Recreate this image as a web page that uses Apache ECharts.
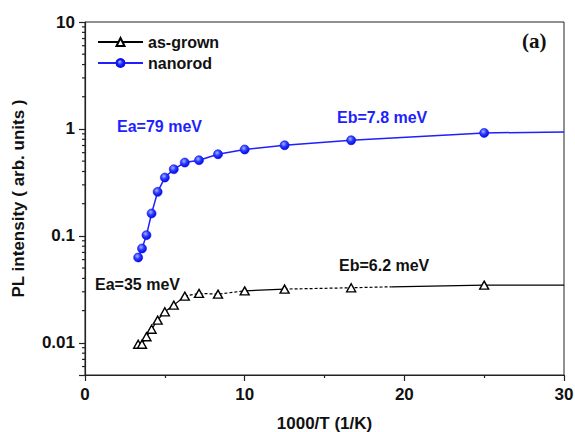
<!DOCTYPE html>
<html>
<head>
<meta charset="utf-8">
<script src="https://cdn.jsdelivr.net/npm/echarts@6/dist/echarts.min.js"></script>
<style>
  html, body { margin: 0; padding: 0; background: #fff; }
  #chart { width: 575px; height: 432px; }
</style>
</head>
<body>
<div id="chart"></div>
<script>
// 1000/T (1/K) for T = 300, 280, 260 ... 40 K
const invT = [3.33, 3.57, 3.85, 4.17, 4.55, 5.0, 5.56, 6.25, 7.14, 8.33, 10.0, 12.5, 16.67, 25.0];
// integrated PL intensity (arb. units)
const nanorodPL = [0.0628, 0.0762, 0.1016, 0.162, 0.258, 0.351, 0.420, 0.485, 0.510, 0.580, 0.642, 0.704, 0.784, 0.918];
const asGrownPL = [0.0097, 0.0097, 0.0114, 0.0134, 0.0163, 0.0195, 0.0225, 0.0273, 0.0290, 0.0285, 0.0306, 0.0318, 0.0327, 0.0346];
// Arrhenius fit curves continue beyond the last measured point
const nanorodFitEnd = [30, 0.937];
const asGrownFitKnee = [19.2, 0.0334];
const asGrownFitEnd = [30, 0.0346];
// axis ticks
const xTickValues = [0, 10, 20, 30];
const yDecades = [0.01, 0.1, 1, 10];
const yMin = 0.005, yMax = 10;

const FONT = '"Liberation Sans", Arial, sans-serif';
const BLUE = '#1f1fff';
const INK = '#111';

const toPts = (xs, ys) => xs.map((x, i) => [x, ys[i]]);
const nrPts = toPts(invT, nanorodPL);
const agPts = toPts(invT, asGrownPL);

// log minor ticks 2..9 within each decade of the y range
const yMinorTicks = [];
for (let d = 0.001; d < yMax; d *= 10) {
  for (let k = 2; k <= 9; k++) {
    const v = +(k * d).toPrecision(3);
    if (v > yMin && v < yMax) yMinorTicks.push(v);
  }
}

const triangleStyle = { color: '#fff', borderColor: '#000', borderWidth: 1.4 };
const sphereStyle = {
  color: {
    type: 'radial', x: 0.4, y: 0.35, r: 0.7,
    colorStops: [{ offset: 0, color: '#a8b4ff' }, { offset: 0.45, color: '#2a3cff' }, { offset: 1, color: '#0000e0' }]
  },
  borderColor: '#1010ee', borderWidth: 0.6
};

const chart = echarts.init(document.getElementById('chart'), null, { renderer: 'svg' });

chart.setOption({
  animation: false,
  backgroundColor: '#fff',
  grid: {
    left: 85, right: 11, top: 22, bottom: 57,
    outerBoundsMode: 'none', containLabel: false,
    show: true, borderColor: '#222', borderWidth: 1
  },
  legend: {
    left: 92, top: 29, orient: 'vertical',
    itemWidth: 45, itemHeight: 10, itemGap: 5,
    data: ['as-grown', 'nanorod'],
    textStyle: { fontFamily: FONT, fontWeight: 'bold', fontSize: 16, color: INK, lineHeight: 16 }
  },
  xAxis: {
    type: 'value', min: 0, max: 30, interval: 10,
    name: '1000/T (1/K)', nameLocation: 'middle', nameGap: 40,
    nameTextStyle: { fontFamily: FONT, fontWeight: 'bold', fontSize: 17, color: INK },
    axisLine: { lineStyle: { color: '#222', width: 1.2 } },
    axisTick: { length: 6, lineStyle: { color: '#222', width: 1.2 } },
    minorTick: { show: true, splitNumber: 2, length: 3, lineStyle: { color: '#222', width: 1.2 } },
    splitLine: { show: false },
    axisLabel: {
      margin: 11, fontFamily: FONT, fontWeight: 'bold', fontSize: 17, color: INK,
      formatter: v => (xTickValues.indexOf(v) >= 0 ? String(v) : '')
    }
  },
  yAxis: {
    type: 'log', logBase: 10, min: yMin, max: yMax,
    name: 'PL intensity ( arb. units )', nameLocation: 'middle', nameGap: 58, nameRotate: 90,
    nameTextStyle: { fontFamily: FONT, fontWeight: 'bold', fontSize: 17, color: INK },
    axisLine: { show: true, lineStyle: { color: '#222', width: 1.2 } },
    axisTick: { show: true, length: 6, lineStyle: { color: '#222', width: 1.2 } },
    splitLine: { show: false },
    axisLabel: {
      margin: 10, fontFamily: FONT, fontWeight: 'bold', fontSize: 17, color: INK,
      formatter: v => {
        const hit = yDecades.find(d => Math.abs(v / d - 1) < 1e-6);
        return hit === undefined ? '' : String(hit);
      }
    }
  },
  graphic: [
    { type: 'text', style: { x: 117, y: 126, text: 'Ea=79 meV', font: 'bold 16px ' + FONT, fill: BLUE, textVerticalAlign: 'middle' } },
    { type: 'text', style: { x: 337, y: 117, text: 'Eb=7.8 meV', font: 'bold 16px ' + FONT, fill: BLUE, textVerticalAlign: 'middle' } },
    { type: 'text', style: { x: 95, y: 284, text: 'Ea=35 meV', font: 'bold 16px ' + FONT, fill: INK, textVerticalAlign: 'middle' } },
    { type: 'text', style: { x: 339, y: 265, text: 'Eb=6.2 meV', font: 'bold 16px ' + FONT, fill: INK, textVerticalAlign: 'middle' } },
    { type: 'text', style: { x: 522, y: 41, text: '(a)', font: 'bold 21px "Liberation Serif", "Times New Roman", serif', fill: INK, textVerticalAlign: 'middle' } }
  ],
  series: [
    // log-scale minor ticks on the left axis
    {
      type: 'custom', silent: true, clip: false, z: 5,
      data: yMinorTicks.map(v => [0, v]),
      renderItem: (params, api) => {
        const p = api.coord([api.value(0), api.value(1)]);
        return { type: 'line', shape: { x1: p[0] - 3, y1: p[1], x2: p[0], y2: p[1] }, style: { stroke: '#222', lineWidth: 1.2 } };
      }
    },
    // as-grown: measured points, solid fit through the steep part
    {
      name: 'as-grown', type: 'line', z: 4,
      data: agPts.slice(0, 8),
      symbol: 'triangle', symbolSize: [9, 8], showAllSymbol: true,
      itemStyle: triangleStyle,
      lineStyle: { color: '#000', width: 1.2 }
    },
    {
      name: 'as-grown pts', type: 'line', z: 4,
      data: agPts.slice(8),
      symbol: 'triangle', symbolSize: [9, 8], showAllSymbol: true,
      itemStyle: triangleStyle,
      lineStyle: { width: 0, opacity: 0 }
    },
    // as-grown fit curve: dotted and solid stretches
    { name: 'as-grown fit a', type: 'line', z: 2, symbol: 'none', data: agPts.slice(7, 11), lineStyle: { color: '#000', width: 1.2, type: [3, 2] } },
    { name: 'as-grown fit b', type: 'line', z: 2, symbol: 'none', data: agPts.slice(10, 12), lineStyle: { color: '#000', width: 1.2 } },
    { name: 'as-grown fit c', type: 'line', z: 2, symbol: 'none', data: agPts.slice(11, 13).concat([asGrownFitKnee]), lineStyle: { color: '#000', width: 1.2, type: [3, 2] } },
    { name: 'as-grown fit d', type: 'line', z: 2, symbol: 'none', data: [asGrownFitKnee, agPts[13], asGrownFitEnd], lineStyle: { color: '#000', width: 1.2 } },
    // nanorod: measured points with fit curve
    {
      name: 'nanorod', type: 'line', z: 3,
      data: nrPts.map(p => ({ value: p })).concat([{ value: nanorodFitEnd, symbol: 'none' }]),
      symbol: 'circle', symbolSize: 9, showAllSymbol: true,
      itemStyle: sphereStyle,
      lineStyle: { color: BLUE, width: 1.5 }
    }
  ]
});
</script>
</body>
</html>
